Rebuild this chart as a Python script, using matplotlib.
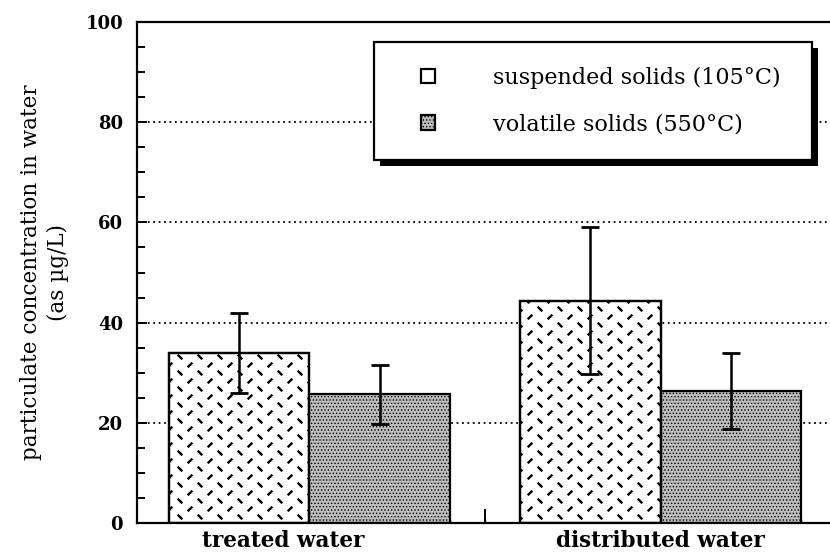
import numpy as np
import matplotlib
matplotlib.use("Agg")
import matplotlib.pyplot as plt
from matplotlib.patches import Rectangle
from matplotlib.collections import LineCollection
from matplotlib.transforms import IdentityTransform
import matplotlib.patheffects as pe

categories = ["treated water", "distributed water"]
series_names = ["suspended solids (105°C)", "volatile solids (550°C)"]
suspended = [34.0, 44.4]
suspended_err = [8.0, 14.7]
volatile = [25.7, 26.4]
volatile_err = [5.9, 7.6]
yticks = [0, 20, 40, 60, 80, 100]

plt.rcParams['font.family'] = ['DejaVu Serif']
plt.rcParams['hatch.color'] = 'black'
plt.rcParams['hatch.linewidth'] = 0.6

fig = plt.figure(figsize=(8.30, 5.57), dpi=100)
ax = fig.add_axes([137/830, 1-523/557, (833-137)/830, (523-22)/557])

x = np.arange(len(categories))
w = 0.4
b1 = ax.bar(x - w/2, suspended, w, facecolor='white', edgecolor='black', linewidth=1.6, zorder=2)
b2 = ax.bar(x + w/2, volatile, w, facecolor='#bdbdbd', edgecolor='black', linewidth=1.6,
            hatch='.....', zorder=2)

ax.errorbar(x - w/2, suspended, yerr=suspended_err, fmt='none', ecolor='black',
            elinewidth=1.8, capsize=6.5, capthick=2, zorder=4)
ax.errorbar(x + w/2, volatile, yerr=volatile_err, fmt='none', ecolor='black',
            elinewidth=1.8, capsize=6.5, capthick=2, zorder=4)

ax.set_xlim(-0.49, 1.49)
ax.set_ylim(0, 100)

# dotted grid lines
for yv in yticks[1:-1]:
    ax.axhline(yv, color='black', linestyle=(0, (1, 2)), linewidth=1.3, zorder=0.5)

# dashed cross-hatch decoration for suspended bars (pixel pattern)
fig.canvas.draw()
segs = []
L = 2.3
for r, yy in enumerate(np.arange(0, 557, 8)):
    off = 0 if r % 2 == 0 else 10
    for xx in np.arange(130 + off, 840, 20):
        if r % 2 == 0:
            segs.append([(xx - L, yy - L), (xx + L, yy + L)])
        else:
            segs.append([(xx - L, yy + L), (xx + L, yy - L)])
for p in b1:
    lc = LineCollection(segs, colors='black', linewidths=1.7, transform=IdentityTransform(), zorder=2.5)
    lc.set_clip_path(p)
    fig.add_artist(lc)
    ax.add_patch(Rectangle(p.get_xy(), p.get_width(), p.get_height(), fill=False,
                           edgecolor='black', linewidth=1.6, zorder=3))

# axes styling
ax.spines['right'].set_visible(False)
for s in ['left', 'bottom', 'top']:
    ax.spines[s].set_linewidth(1.6)
ax.set_yticks(yticks)
ax.set_yticks(np.arange(0, 101, 5), minor=True)
ax.tick_params(axis='y', which='major', direction='in', length=7, width=1.4, pad=10,
               labelsize=13)
ax.tick_params(axis='y', which='minor', direction='in', length=6, width=1.4)
for t in ax.get_yticklabels():
    t.set_fontweight('bold')

ax.set_xticks([-0.075, 1])
ax.set_xticklabels(categories, fontweight='bold', fontsize=15.5)
ax.set_xticks(np.arange(-0.4, 1.45, 0.1), minor=True)
ax.tick_params(axis='x', which='major', direction='in', length=0, pad=5)
ax.tick_params(axis='x', which='minor', direction='in', length=3, width=1.0)
sec = ax.secondary_xaxis('bottom')
sec.set_xticks([0.5])
sec.set_xticklabels([''])
sec.tick_params(direction='in', length=10, width=1.4)
sec.spines['bottom'].set_visible(False)

ax.set_ylabel("particulate concentration in water\n(as µg/L)", fontsize=15.5, labelpad=12,
              linespacing=1.25)

# legend frame with shadow
fx0 = (374-137)/696; fx1 = (812-137)/696
fy1 = (523-42)/501; fy0 = (523-160)/501
frame = Rectangle((fx0, fy0), fx1-fx0, fy1-fy0, transform=ax.transAxes, facecolor='white',
                  edgecolor='black', linewidth=1.6, zorder=5)
frame.set_path_effects([pe.SimplePatchShadow(offset=(4, -4), shadow_rgbFace='black', alpha=1),
                        pe.Normal()])
ax.add_patch(frame)
leg = ax.legend([b1[0], b2[0]], series_names, loc='center left',
                bbox_to_anchor=((421-137)/696, (523-101)/501), frameon=False, fontsize=16,
                handlelength=0.65, handleheight=0.65, handletextpad=2.6, labelspacing=1.1,
                borderpad=0, borderaxespad=0)
leg.set_zorder(6)

fig.savefig("out.png", dpi=100)
